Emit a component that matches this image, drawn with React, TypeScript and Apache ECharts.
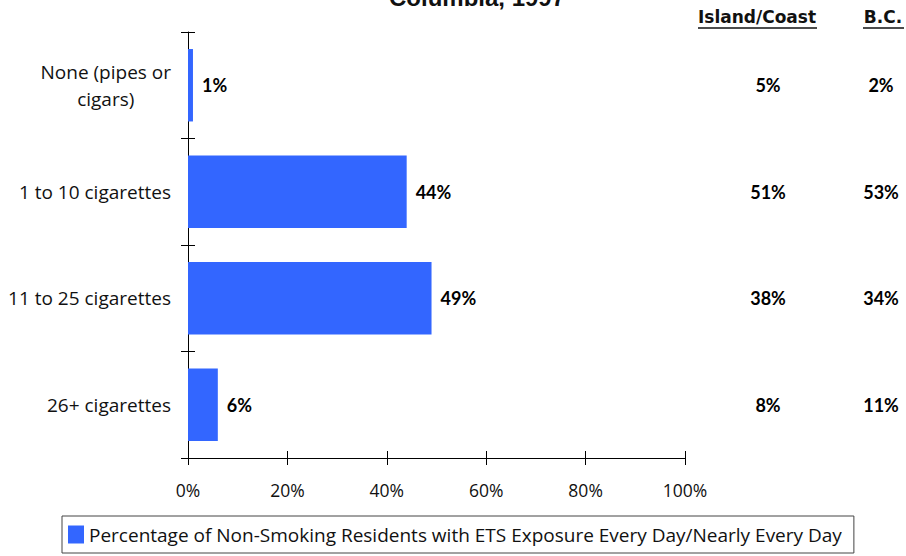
import React, { useEffect, useRef } from "react";
import * as echarts from "echarts";

const categories = ["None (pipes or cigars)", "1 to 10 cigarettes", "11 to 25 cigarettes", "26+ cigarettes"];
const southFraserValues = [1, 44, 49, 6];
const comparisonColumns = ["Island/Coast", "B.C."];
const islandCoastValues = [5, 51, 38, 8];
const bcValues = [2, 53, 34, 11];
const xTicks = [0, 20, 40, 60, 80, 100];
const seriesName = "Percentage of Non-Smoking Residents with ETS Exposure Every Day/Nearly Every Day";
const titleText = "Columbia, 1997";

const FONT = "'Open Sans', 'Liberation Sans', Arial, sans-serif";
const AXIS_FONT = "'Open Sans', 'Liberation Sans', sans-serif";
const BOLD_FONT = "Lato, 'Liberation Sans', sans-serif";
const HEAD_FONT = "'DejaVu Sans', sans-serif";

export default function App() {
  const ref = useRef<HTMLDivElement>(null);
  useEffect(() => {
    if (!ref.current) return;
    const chart = echarts.init(ref.current, undefined, { renderer: "svg" });
    const colData = (vals: number[], col: string) =>
      vals.map((v, i) => [col, categories[i], v]);
    const option: any = {
      animation: false,
      backgroundColor: "#ffffff",
      grid: [
        { left: 188, right: 221, top: 32, bottom: 98, containLabel: false },
        { left: 768, right: 25, top: 32, bottom: 98, containLabel: false },
      ],
      xAxis: [
        {
          type: "value",
          gridIndex: 0,
          min: xTicks[0],
          max: xTicks[xTicks.length - 1],
          interval: 20,
          splitLine: { show: false },
          axisLine: { show: true, lineStyle: { color: "#000", width: 1 } },
          axisTick: { show: true, length: 7, lineStyle: { color: "#000" } },
          axisLabel: {
            formatter: (v: number) => v + "%",
            fontFamily: AXIS_FONT,
            fontSize: 17.5,
            color: "#111",
            margin: 23,
          },
        },
        {
          type: "value",
          gridIndex: 0,
          position: "bottom",
          min: xTicks[0],
          max: xTicks[xTicks.length - 1],
          interval: 20,
          splitLine: { show: false },
          axisLine: { show: false },
          axisTick: { show: true, inside: true, length: 7, lineStyle: { color: "#000" } },
          axisLabel: { show: false },
        },
        {
          type: "category",
          gridIndex: 1,
          data: comparisonColumns,
          boundaryGap: false,
          show: false,
        },
      ],
      yAxis: [
        {
          type: "category",
          gridIndex: 0,
          data: categories,
          inverse: true,
          axisLine: { show: true, lineStyle: { color: "#000", width: 1 } },
          axisTick: { show: true, length: 7, lineStyle: { color: "#000" } },
          axisLabel: {
            margin: 17,
            fontFamily: FONT,
            fontSize: 19,
            color: "#111",
            lineHeight: 27,
            formatter: (v: string) => {
              if (v === categories[0]) return "{c|None (pipes or}\n{c|cigars)}";
              return v;
            },
            rich: {
              c: { align: "center", fontFamily: FONT, fontSize: 19, color: "#111", lineHeight: 27 },
            },
          },
        },
        {
          type: "category",
          gridIndex: 0,
          data: categories,
          inverse: true,
          position: "left",
          axisLine: { show: false },
          axisTick: { show: true, inside: true, length: 7, lineStyle: { color: "#000" } },
          axisLabel: { show: false },
        },
        {
          type: "category",
          gridIndex: 1,
          data: categories,
          inverse: true,
          show: false,
        },
      ],
      legend: {
        show: true,
        left: 62,
        top: 516,
        data: [seriesName],
        icon: "rect",
        itemWidth: 16,
        itemHeight: 18,
        itemGap: 0,
        padding: [9, 12, 9, 6],
        borderColor: "#444",
        borderWidth: 1,
        textStyle: { fontFamily: FONT, fontSize: 19, color: "#111", padding: [0, 0, 0, 0] },
      },
      series: [
        {
          name: seriesName,
          type: "bar",
          xAxisIndex: 0,
          yAxisIndex: 0,
          data: southFraserValues,
          barCategoryGap: "32%",
          itemStyle: { color: "#3366FF" },
          label: {
            show: true,
            position: "right",
            distance: 9,
            formatter: (p: any) => p.value + "%",
            fontFamily: BOLD_FONT,
            fontWeight: "bold",
            fontSize: 18,
            color: "#000",
          },
        },
        ...[islandCoastValues, bcValues].map((vals, k) => ({
          name: comparisonColumns[k],
          type: "scatter",
          xAxisIndex: 2,
          yAxisIndex: 2,
          symbolSize: 1,
          itemStyle: { opacity: 0 },
          data: colData(vals, comparisonColumns[k]),
          encode: { x: 0, y: 1 },
          label: {
            show: true,
            position: "inside",
            formatter: (p: any) => p.value[2] + "%",
            fontFamily: BOLD_FONT,
            fontWeight: "bold",
            fontSize: 18,
            color: "#000",
            opacity: 1,
          },
        })),
      ],
      graphic: [
        {
          type: "text",
          x: 477,
          y: 9,
          style: {
            text: titleText,
            fontFamily: "'Liberation Sans', Arial, sans-serif",
            fontWeight: "bold",
            fontSize: 24,
            fill: "#111",
            textAlign: "center",
            textVerticalAlign: "bottom",
          },
        },
        {
          type: "text",
          x: 757,
          y: 17,
          style: {
            text: comparisonColumns[0],
            fontFamily: HEAD_FONT,
            fontWeight: "bold",
            fontSize: 17,
            fill: "#111",
            textAlign: "center",
            textVerticalAlign: "middle",
          },
        },
        { type: "line", shape: { x1: 698, y1: 28, x2: 817, y2: 28 }, style: { stroke: "#111", lineWidth: 1.5 } },
        {
          type: "text",
          x: 883,
          y: 17,
          style: {
            text: comparisonColumns[1],
            fontFamily: HEAD_FONT,
            fontWeight: "bold",
            fontSize: 17,
            fill: "#111",
            textAlign: "center",
            textVerticalAlign: "middle",
          },
        },
        { type: "line", shape: { x1: 863, y1: 28, x2: 904, y2: 28 }, style: { stroke: "#111", lineWidth: 1.5 } },
      ],
    };
    chart.setOption(option);
    return () => chart.dispose();
  }, []);
  return <div ref={ref} style={{ width: 906, height: 556, position: "absolute", left: 0, top: 0 }} />;
}
